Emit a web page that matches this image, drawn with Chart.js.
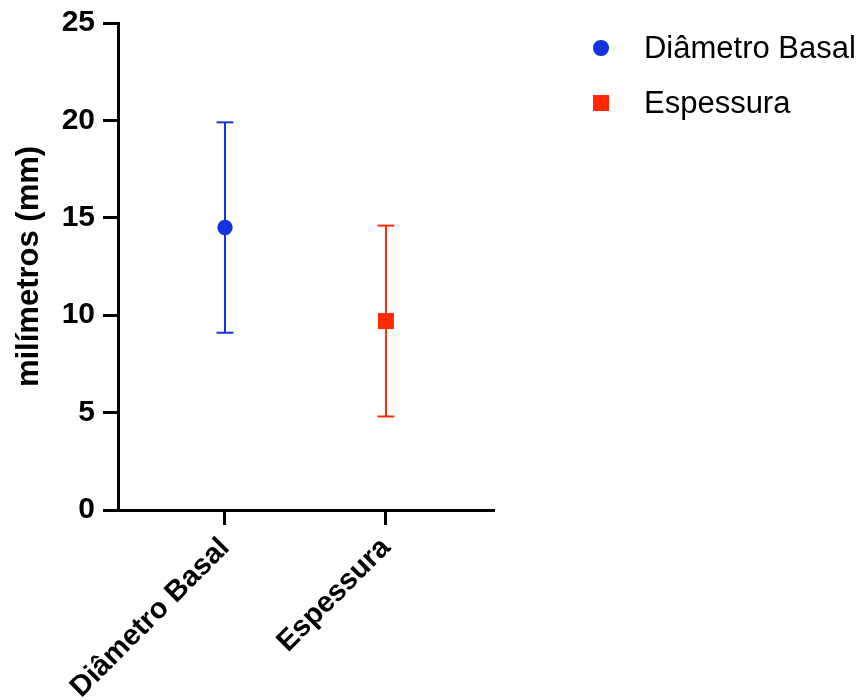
<!DOCTYPE html>
<html lang="pt">
<head>
<meta charset="utf-8">
<title>milímetros (mm)</title>
<script src="https://cdn.jsdelivr.net/npm/chart.js@4/dist/chart.umd.min.js"></script>
<style>
    body { margin: 0; background: #fff; }
    #wrap { position: relative; width: 861px; height: 700px; }
    #legend {
        position: absolute; left: 593px; top: 30px;
        margin: 0; padding: 0; list-style: none;
        font: 31px 'Liberation Sans', Arial, sans-serif; color: #000;
    }
    #legend li { display: flex; align-items: center; height: 36px; margin-bottom: 19px; white-space: nowrap; }
    #legend .box { flex: none; }
</style>
</head>
<body>
<div id="wrap">
    <canvas id="graph" width="861" height="700"></canvas>
    <ul id="legend"></ul>
</div>
<script>
// values (mean and error bar ends)
const categories = ['Diâmetro Basal', 'Espessura'];
const means = [14.5, 9.7];
const lowerEnds = [9.1, 4.8];
const upperEnds = [19.9, 14.6];
const yTicks = [0, 5, 10, 15, 20, 25];
const xTicks = [0, 1];

const BLUE = '#1433DF';
const RED = '#FF2A00';
const FONT = "'Liberation Sans', Arial, sans-serif";

Chart.defaults.font.family = FONT;
Chart.defaults.color = '#000';

// one marker dataset and one error bar dataset per group
const markerSets = categories.map((name, i) => ({
    label: name,
    data: [{ x: i, y: means[i] }],
    pointStyle: i === 0 ? 'circle' : 'rect',
    pointRadius: i === 0 ? 7.7 : 11.3,
    backgroundColor: i === 0 ? BLUE : RED,
    borderColor: i === 0 ? BLUE : RED,
    borderWidth: 0
}));

const errorSets = categories.map((name, i) => ({
    label: name + ' erro',
    data: [{ x: i, y: lowerEnds[i] }, { x: i, y: upperEnds[i] }],
    showLine: true,
    borderColor: i === 0 ? BLUE : RED,
    borderWidth: 2,
    pointStyle: 'line',
    pointRadius: 8.4,
    pointBorderWidth: 2,
    pointBorderColor: i === 0 ? BLUE : RED,
    pointBackgroundColor: i === 0 ? BLUE : RED
}));

// html legend, built from the chart's own legend items
const htmlLegend = {
    id: 'htmlLegend',
    afterUpdate(chart) {
        const ul = document.getElementById('legend');
        ul.innerHTML = '';
        const items = chart.options.plugins.legend.labels.generateLabels(chart)
            .filter(item => item.datasetIndex < categories.length);
        items.forEach(item => {
            const ds = chart.data.datasets[item.datasetIndex];
            const round = ds.pointStyle === 'circle';
            const size = round ? ds.pointRadius * 2 : ds.pointRadius * 2 * Math.SQRT1_2;
            const li = document.createElement('li');
            const box = document.createElement('span');
            box.className = 'box';
            box.style.width = size + 'px';
            box.style.height = size + 'px';
            box.style.background = ds.backgroundColor;
            box.style.borderRadius = round ? '50%' : '0';
            box.style.marginLeft = (16 - size) / 2 + 'px';
            box.style.marginRight = 35 + (16 - size) / 2 + 'px';
            li.appendChild(box);
            li.appendChild(document.createTextNode(item.text));
            ul.appendChild(li);
        });
    }
};

const ctx = document.getElementById('graph').getContext('2d');
new Chart(ctx, {
    type: 'scatter',
    data: { datasets: [...markerSets, ...errorSets] },
    options: {
        responsive: false,
        animation: false,
        layout: { padding: { top: 22, right: 368, bottom: 0, left: 0 } },
        plugins: {
            legend: { display: false, labels: { usePointStyle: true } },
            tooltip: { enabled: false }
        },
        scales: {
            x: {
                type: 'linear',
                min: -0.6646,
                max: 1.665,
                afterBuildTicks: scale => { scale.ticks = xTicks.map(v => ({ value: v })); },
                afterFit: scale => { scale.height = 190; },
                border: { display: true, color: '#000', width: 3 },
                grid: { drawOnChartArea: false, drawTicks: true, tickLength: 15, color: '#000', lineWidth: 3 },
                ticks: {
                    autoSkip: false,
                    minRotation: 45,
                    maxRotation: 45,
                    padding: 6,
                    font: { size: 29, weight: 'bold' },
                    callback: value => categories[value]
                }
            },
            y: {
                min: 0,
                max: 25,
                afterBuildTicks: scale => { scale.ticks = yTicks.map(v => ({ value: v })); },
                afterFit: scale => { scale.width = 118; },
                border: { display: true, color: '#000', width: 3 },
                grid: { drawOnChartArea: false, drawTicks: true, tickLength: 15, color: '#000', lineWidth: 3 },
                ticks: {
                    padding: 8,
                    font: { size: 30, weight: 'bold', lineHeight: 1 }
                },
                title: {
                    display: true,
                    text: 'milímetros (mm)',
                    font: { size: 31, weight: 'bold' },
                    padding: { top: 11, bottom: 0 }
                }
            }
        }
    },
    plugins: [htmlLegend]
});
</script>
</body>
</html>
